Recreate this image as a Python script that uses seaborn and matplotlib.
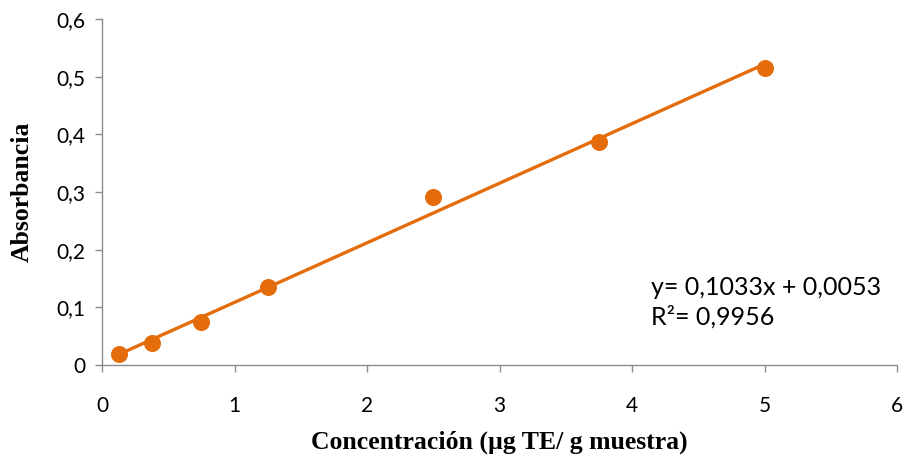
import matplotlib
matplotlib.use("Agg")
import matplotlib.pyplot as plt
import seaborn as sns
import numpy as np
import pandas as pd
from matplotlib.ticker import FuncFormatter

conc = [0.125, 0.375, 0.75, 1.25, 2.5, 3.75, 5.0]
absorb = [0.019, 0.039, 0.075, 0.135, 0.291, 0.387, 0.515]
slope = 0.1033
intercept = 0.0053
r2 = 0.9956

sns.set_style("white")
plt.rcParams['font.family'] = ['Lato', 'DejaVu Sans']

fig = plt.figure(figsize=(9.05, 4.55), dpi=100)
ax = fig.add_axes([0.1127, 0.1978, 0.8785, 0.7604])

orange = "#E46C0A"
df = pd.DataFrame({"x": conc, "y": absorb})
xf = np.array([min(conc), max(conc)])
fit = pd.DataFrame({"x": xf, "y": slope * xf + intercept})
sns.lineplot(data=fit, x="x", y="y", ax=ax, color=orange, lw=2.4, zorder=2)
sns.scatterplot(data=df, x="x", y="y", ax=ax, color=orange, s=150, edgecolor=orange, linewidth=0, zorder=3)

ax.set_xlim(0, 6)
ax.set_ylim(0, 0.6)
ax.set_xticks(range(0, 7))
ax.set_yticks(np.arange(0, 0.61, 0.1))
fmt = FuncFormatter(lambda v, p: ("%g" % round(v, 2)).replace(".", ","))
ax.xaxis.set_major_formatter(fmt)
ax.yaxis.set_major_formatter(fmt)

for s in ["top", "right"]:
    ax.spines[s].set_visible(False)
for s in ["left", "bottom"]:
    ax.spines[s].set_color("#8c8c8c")
    ax.spines[s].set_linewidth(1.0)
ax.tick_params(axis="both", which="major", direction="out", length=5, width=1.0,
               color="#8c8c8c", labelsize=15, labelcolor="black", bottom=True, left=True)
ax.tick_params(axis="x", pad=17)
ax.tick_params(axis="y", pad=7)
ax.grid(False)

ax.set_xlabel("Concentración (µg TE/ g muestra)", fontsize=18.5, fontweight="bold",
              family=["Liberation Serif", "DejaVu Serif"], labelpad=11, color="black")
ax.set_ylabel("Absorbancia", fontsize=18.5, fontweight="bold",
              family=["Liberation Serif", "DejaVu Serif"], labelpad=16, color="black")

ax.text(4.14, 0.109, "y= 0,1033x + 0,0053\nR²= 0,9956", fontsize=18,
        ha="left", va="center", linespacing=1.3, color="black")

fig.savefig("out.png", dpi=100)
